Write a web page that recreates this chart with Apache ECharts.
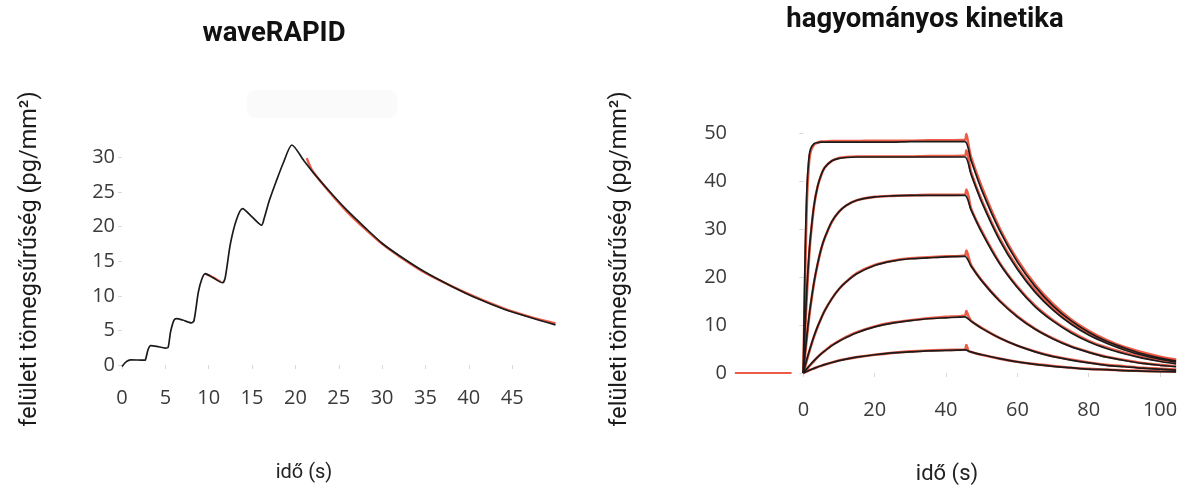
<!DOCTYPE html>
<html><head><meta charset="utf-8">
<script src="https://cdn.jsdelivr.net/npm/echarts@6/dist/echarts.min.js"></script>
<style>html,body{margin:0;padding:0;background:#fff}#c{width:1186px;height:490px}</style>
</head><body><div id="c"></div>
<script>
// ---- waveRAPID (left) ----
const waveT = [0,0.5,1.0,2.5,2.7,3.0,3.3,4.0,5.0,5.3,5.6,6.0,6.3,7.0,8.0,8.3,8.8,9.2,9.6,10.5,11.6,11.9,12.5,13.2,13.9,15.0,16.1,16.4,17.0,17.8,18.6,19.6,21,22,24,26,28,30,32,35,38,41,44,47,50];
const waveV = [-0.2,0.5,0.75,0.7,0.75,2.2,2.8,2.7,2.45,2.5,4.8,6.5,6.7,6.5,6.1,6.4,10.5,12.4,13.2,12.6,11.9,12.6,17.5,21.0,22.6,21.4,20.2,21.2,23.8,26.6,29.2,31.8,29.5,27.9,25.0,22.3,19.9,17.6,15.8,13.4,11.4,9.6,8.1,6.9,5.8];
const waveRedT = [21.3,22,24,26,28,30,32,35,38,41,44,47,50];
const waveRedV = [29.9,28.0,24.9,22.1,19.7,17.5,15.7,13.3,11.4,9.7,8.2,7.0,6.0];
const waveRed2T = [9.6,10.5,11.4];
const waveRed2V = [13.2,12.7,12.0];
const waveXTicks = [0,5,10,15,20,25,30,35,40,45];
const waveYTicks = [0,5,10,15,20,25,30];

// ---- hagyományos kinetika (right) ----
const kinT = [0,0.5,1,1.5,2,3,4,5,6,8,10,12,15,20,25,30,35,40,45.3,47,50,55,60,65,70,75,80,85,90,95,100,104.5];
const fit1 = [0,25,38.5,44.3,46.6,47.8,48.0,48.1,48.1,48.1,48.1,48.1,48.1,48.1,48.1,48.2,48.2,48.2,48.2,44.3,38.1,29.7,23.1,18.0,14.0,10.9,8.5,6.6,5.2,4.0,3.1,2.5];
const fit2 = [0,9.9,17.7,23.8,28.4,35.0,38.9,41.3,42.8,44.2,44.7,44.9,45.0,45.0,45.0,45.0,45.0,45.0,45.0,41.4,35.6,27.7,21.6,16.8,13.1,10.2,7.9,6.2,4.8,3.7,2.9,2.3];
const fit3 = [0,4.2,7.9,11.2,14.1,19.0,22.8,25.9,28.2,31.6,33.6,34.9,36.0,36.7,36.9,37.0,37.0,37.0,37.0,34.0,29.3,22.8,17.8,13.8,10.8,8.4,6.5,5.1,4.0,3.1,2.4,1.9];
const fit4 = [0,1.5,2.9,4.2,5.4,7.7,9.7,11.4,13.0,15.5,17.5,19.0,20.7,22.4,23.3,23.8,24.0,24.2,24.3,22.3,19.2,15.0,11.7,9.1,7.1,5.5,4.3,3.3,2.6,2.0,1.6,1.3];
const fit5 = [0,0.47,0.92,1.35,1.78,2.56,3.3,4.0,4.6,5.7,6.6,7.4,8.4,9.6,10.4,10.9,11.3,11.5,11.7,10.8,9.3,7.3,5.7,4.4,3.4,2.7,2.1,1.6,1.3,1.0,0.8,0.6];
const fit6 = [0,0.18,0.35,0.51,0.67,0.97,1.25,1.51,1.75,2.19,2.57,2.9,3.3,3.8,4.2,4.4,4.6,4.7,4.8,4.4,3.8,3.0,2.3,1.8,1.4,1.1,0.8,0.7,0.5,0.4,0.3,0.25];

const measT = [0,0.5,1,1.5,2,3,4,5,6,8,10,12,15,20,25,30,35,40,45.3,45.7,46.3,47,50,55,60,65,70,75,80,85,90,95,100,104.5];
const meas1 = [0,20,36,43,46,47.6,48.0,48.2,48.2,48.3,48.3,48.3,48.3,48.4,48.4,48.4,48.5,48.5,48.6,49.8,47.5,45.0,38.8,30.2,23.6,18.4,14.4,11.2,8.8,6.9,5.4,4.3,3.4,2.8];
const meas2 = [0,8.5,16.5,23,28,34.8,38.8,41.2,42.8,44.2,44.8,45.0,45.1,45.1,45.1,45.1,45.2,45.2,45.3,46.4,44.6,41.9,36.0,28.1,22.0,17.2,13.5,10.5,8.2,6.5,5.1,4.0,3.2,2.6];
const meas3 = [0,3.8,7.5,10.8,13.8,18.8,22.6,25.8,28.1,31.5,33.6,34.9,36.0,36.7,36.9,37.0,37.1,37.1,37.2,38.2,36.8,34.3,29.6,23.0,18.0,14.0,11.0,8.6,6.7,5.3,4.2,3.3,2.6,2.1];
const meas4 = [0,1.3,2.7,4.0,5.3,7.6,9.6,11.4,13.0,15.5,17.5,19.0,20.8,22.5,23.4,23.9,24.1,24.3,24.5,25.5,24.2,22.5,19.3,15.1,11.8,9.2,7.2,5.6,4.4,3.4,2.7,2.1,1.7,1.4];
const meas5 = [0,0.4,0.8,1.3,1.7,2.5,3.3,4.0,4.6,5.8,6.7,7.5,8.5,9.7,10.5,11.0,11.4,11.7,12.0,12.9,11.8,10.9,9.4,7.3,5.7,4.5,3.5,2.8,2.2,1.7,1.4,1.1,0.9,0.7];
const meas6 = [0,0.15,0.3,0.5,0.65,0.95,1.25,1.5,1.75,2.2,2.6,2.9,3.3,3.8,4.2,4.5,4.7,4.8,4.9,5.8,4.6,4.4,3.8,3.0,2.35,1.85,1.45,1.1,0.85,0.7,0.55,0.45,0.35,0.3];
const baseT = [-19.2,-3.3];
const baseV = [0,0];
const kinXTicks = [0,20,40,60,80,100];
const kinYTicks = [0,10,20,30,40,50];

const pair = (t, v) => t.map((x, i) => [x, v[i]]);
const BLACK = '#1b1b1b', RED = '#ea4a33';
const labelStyle = { fontFamily: 'Open Sans', fontSize: 20, color: '#3a3a3a' };

function blackLine(name, xi, data, w) {
  return { name, type: 'line', xAxisIndex: xi, yAxisIndex: xi, data, showSymbol: false, smooth: 0.25,
    lineStyle: { color: BLACK, width: w || 1.7 }, z: 3, silent: true };
}
function redLine(name, xi, data, w) {
  return { name, type: 'line', xAxisIndex: xi, yAxisIndex: xi, data, showSymbol: false, smooth: 0.25,
    lineStyle: { color: RED, width: w || 2.6, opacity: 0.9 }, z: 2, silent: true };
}
function xAx(gi, min, max, ticks, margin) {
  return { type: 'value', gridIndex: gi, min, max,
    axisLine: { show: false }, splitLine: { show: false },
    axisTick: { show: true, length: 4, lineStyle: { color: '#d8d8d8' }, customValues: ticks },
    axisLabel: Object.assign({ margin, customValues: ticks }, labelStyle) };
}
function yAx(gi, min, max, ticks, margin) {
  return { type: 'value', gridIndex: gi, min, max,
    axisLine: { show: false }, splitLine: { show: false },
    axisTick: { show: true, length: 4, lineStyle: { color: '#d8d8d8' }, customValues: ticks },
    axisLabel: Object.assign({ margin, customValues: ticks }, labelStyle) };
}

const chart = echarts.init(document.getElementById('c'), null, { renderer: 'canvas' });
chart.setOption({
  animation: false,
  backgroundColor: '#ffffff',
  grid: [
    { left: 122, top: 143.6, width: 433.5, height: 231.8 },
    { left: 732, top: 123.4, width: 445.9, height: 264 }
  ],
  xAxis: [ xAx(0, 0, 50, waveXTicks, 13), xAx(1, -20, 105, kinXTicks, 13) ],
  yAxis: [ yAx(0, -1.5, 32, waveYTicks, 7), yAx(1, -3, 52, kinYTicks, 5) ],
  graphic: [
    { type: 'rect', shape: { x: 247, y: 90, width: 150, height: 28, r: 8 }, style: { fill: '#fafafa' }, z: -1 },
    { type: 'text', x: 274, y: 34, style: { text: 'waveRAPID', font: 'bold 27.5px Roboto', fill: '#111', textAlign: 'center', textVerticalAlign: 'middle' } },
    { type: 'text', x: 925, y: 20, style: { text: 'hagyományos kinetika', font: 'bold 27.5px Roboto', fill: '#111', textAlign: 'center', textVerticalAlign: 'middle' } },
    { type: 'text', x: 304, y: 473, style: { text: 'idő (s)', font: '20px Roboto', fill: '#222', textAlign: 'center', textVerticalAlign: 'middle' } },
    { type: 'text', x: 947, y: 474, style: { text: 'idő (s)', font: '22px Roboto', fill: '#222', textAlign: 'center', textVerticalAlign: 'middle' } },
    { type: 'text', x: 30, y: 259, rotation: Math.PI / 2, style: { text: 'felületi tömegsűrűség (pg/mm²)', font: '23.5px Roboto', fill: '#1a1a1a', textAlign: 'center', textVerticalAlign: 'middle' } },
    { type: 'text', x: 620, y: 259, rotation: Math.PI / 2, style: { text: 'felületi tömegsűrűség (pg/mm²)', font: '23.5px Roboto', fill: '#1a1a1a', textAlign: 'center', textVerticalAlign: 'middle' } }
  ],
  series: [
    redLine('waveRAPID mért', 0, pair(waveRedT, waveRedV), 2.4),
    redLine('waveRAPID mért 2', 0, pair(waveRed2T, waveRed2V), 2.2),
    blackLine('waveRAPID illesztés', 0, pair(waveT, waveV), 1.7),
    redLine('alapvonal', 1, pair(baseT, baseV), 2.2),
    redLine('mért 1', 1, pair(measT, meas1)),
    redLine('mért 2', 1, pair(measT, meas2)),
    redLine('mért 3', 1, pair(measT, meas3)),
    redLine('mért 4', 1, pair(measT, meas4)),
    redLine('mért 5', 1, pair(measT, meas5)),
    redLine('mért 6', 1, pair(measT, meas6)),
    blackLine('illesztés 1', 1, pair(kinT, fit1)),
    blackLine('illesztés 2', 1, pair(kinT, fit2)),
    blackLine('illesztés 3', 1, pair(kinT, fit3)),
    blackLine('illesztés 4', 1, pair(kinT, fit4)),
    blackLine('illesztés 5', 1, pair(kinT, fit5)),
    blackLine('illesztés 6', 1, pair(kinT, fit6))
  ]
});
</script></body></html>
